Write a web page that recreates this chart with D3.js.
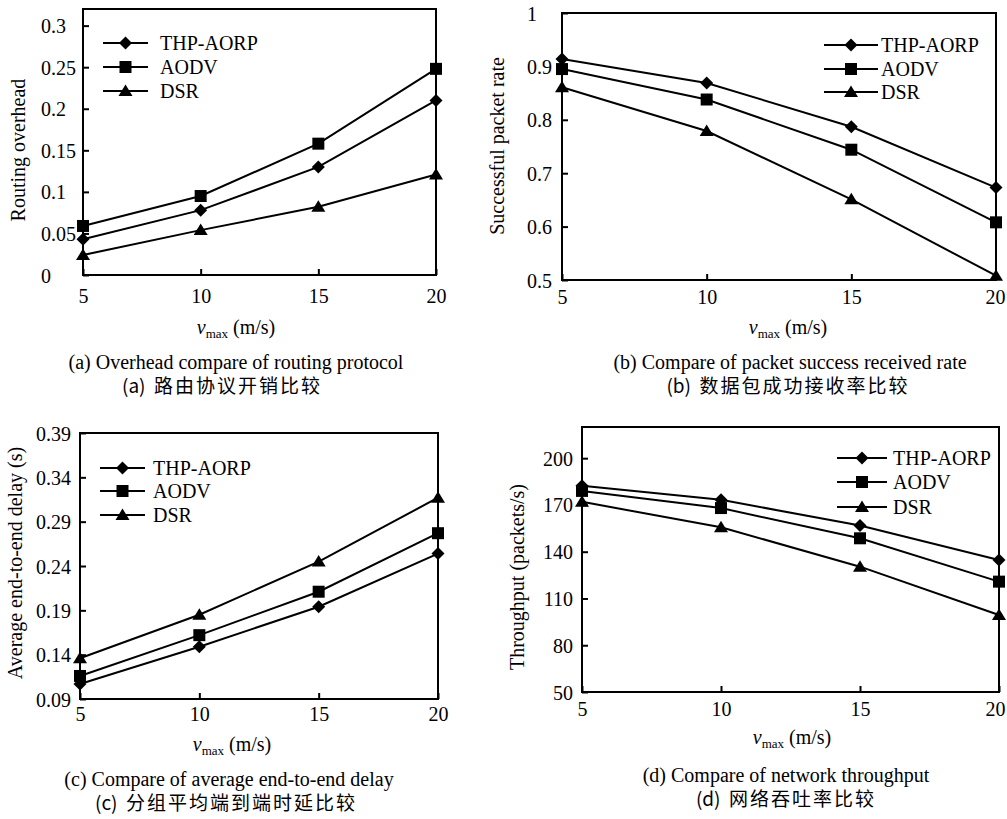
<!DOCTYPE html>
<html>
<head>
<meta charset="utf-8">
<script src="https://cdn.jsdelivr.net/npm/d3@7"></script>
<style>
  body { margin: 0; background: #fff; }
  svg { display: block; }
  text { font-family: "Liberation Serif", "Times New Roman", serif; fill: #000; }
  .cn { font-family: "Noto Sans CJK SC", sans-serif; }
</style>
</head>
<body>
<div id="chart"></div>
<script>
// x axis: max speed
var speeds = [5, 10, 15, 20];
var protocols = ["THP-AORP", "AODV", "DSR"];

// (a) routing overhead
var overheadTHP  = [0.043, 0.078, 0.130, 0.210];
var overheadAODV = [0.059, 0.095, 0.158, 0.248];
var overheadDSR  = [0.024, 0.054, 0.082, 0.121];
var overheadTicks = [0, 0.05, 0.1, 0.15, 0.2, 0.25, 0.3];

// (b) packet delivery rate
var deliveryTHP  = [0.914, 0.869, 0.787, 0.673];
var deliveryAODV = [0.895, 0.838, 0.744, 0.608];
var deliveryDSR  = [0.861, 0.779, 0.651, 0.508];
var deliveryTicks = [0.5, 0.6, 0.7, 0.8, 0.9, 1];

// (c) end-to-end delay
var delayTHP  = [0.107, 0.149, 0.194, 0.254];
var delayAODV = [0.116, 0.162, 0.211, 0.277];
var delayDSR  = [0.136, 0.185, 0.245, 0.317];
var delayTicks = [0.09, 0.14, 0.19, 0.24, 0.29, 0.34, 0.39];

// (d) throughput
var throughputTHP  = [182.3, 173.3, 156.8, 134.7];
var throughputAODV = [179.0, 168.0, 148.6, 120.8];
var throughputDSR  = [172.0, 155.7, 130.4, 99.4];
var throughputTicks = [50, 80, 110, 140, 170, 200];

var w = 1007, h = 819;
var svg = d3.select("#chart").append("svg").attr("width", w).attr("height", h);

// marker shapes (THP diamond, AODV square, DSR triangle)
var shapes = [
    "M0,-6.5L6.5,0L0,6.5L-6.5,0Z",
    "M-6,-6L6,-6L6,6L-6,6Z",
    "M0,-6.5L7,5L-7,5Z"
];

var panels = [
    {series: [overheadTHP, overheadAODV, overheadDSR], ticks: overheadTicks, domain: [0, 0.32],
     left: 83, right: 436, top: 9, bottom: 275, yAlign: "start", yLabX: 41,
     title: "Routing overhead", titleX: 18, titleY: 150,
     leg: {x0: 103, x1: 148, tx: 160, ys: [43, 67, 91]},
     xLabY: 303, vX: 236, vY: 334,
     cap: "(a) Overhead compare of routing protocol", capX: 236, capY: 369,
     tag: "(a)", cn: "路由协议开销比较", cnX: 222, cnY: 393},
    {series: [deliveryTHP, deliveryAODV, deliveryDSR], ticks: deliveryTicks, domain: [0.5, 1],
     left: 562, right: 996, top: 13, bottom: 280, yAlign: "start", yLabX: 527,
     title: "Successful packet rate", titleX: 497, titleY: 146,
     leg: {x0: 824, x1: 878, tx: 881, ys: [45, 69, 92]},
     xLabY: 304, vX: 788, vY: 334,
     cap: "(b) Compare of packet success received rate", capX: 790, capY: 369,
     tag: "(b)", cn: "数据包成功接收率比较", cnX: 788, cnY: 393},
    {series: [delayTHP, delayAODV, delayDSR], ticks: delayTicks, domain: [0.09, 0.39],
     left: 80, right: 438, top: 433, bottom: 699, yAlign: "start", yLabX: 36,
     title: "Average end-to-end delay (s)", titleX: 15, titleY: 563,
     leg: {x0: 100, x1: 145, tx: 153, ys: [468, 491, 515]},
     xLabY: 721, vX: 232, vY: 751,
     cap: "(c) Compare of average end-to-end delay", capX: 229, capY: 786,
     tag: "(c)", cn: "分组平均端到端时延比较", cnX: 226, cnY: 810},
    {series: [throughputTHP, throughputAODV, throughputDSR], ticks: throughputTicks, domain: [50, 220],
     left: 582, right: 999, top: 427, bottom: 692, yAlign: "end", yLabX: 573,
     title: "Throughput (packets/s)", titleX: 517, titleY: 577,
     leg: {x0: 837, x1: 887, tx: 893, ys: [458, 482, 507]},
     xLabY: 716, vX: 792, vY: 744,
     cap: "(d) Compare of network throughput", capX: 786, capY: 782,
     tag: "(d)", cn: "网络吞吐率比较", cnX: 786, cnY: 806}
];

panels.forEach(drawPanel);

function drawPanel(p) {
    var g = svg.append("g");
    var x = d3.scaleLinear().domain([5, 20]).range([p.left, p.right]);
    var y = d3.scaleLinear().domain(p.domain).range([p.bottom, p.top]);

    // y axis, ticks pointing inward
    var yAxis = g.append("g")
        .attr("transform", "translate(" + p.left + ",0)")
        .call(d3.axisLeft(y).tickValues(p.ticks).tickSizeInner(-6).tickSizeOuter(0).tickFormat(d => String(d)));
    yAxis.select(".domain").remove();
    yAxis.selectAll("line").attr("stroke", "#000").attr("stroke-width", 2);
    yAxis.selectAll("text")
        .attr("x", p.yLabX - p.left)
        .attr("dy", "0.35em")
        .attr("text-anchor", p.yAlign)
        .attr("font-size", 20)
        .attr("font-family", "Liberation Serif");

    // x axis
    var xAxis = g.append("g")
        .attr("transform", "translate(0," + p.bottom + ")")
        .call(d3.axisBottom(x).tickValues(speeds).tickSizeInner(-6).tickSizeOuter(0));
    xAxis.select(".domain").remove();
    xAxis.selectAll("line").attr("stroke", "#000").attr("stroke-width", 2);
    xAxis.selectAll("text")
        .attr("y", p.xLabY - p.bottom)
        .attr("dy", 0)
        .attr("font-size", 20)
        .attr("font-family", "Liberation Serif");
    // keep the last label inside the page
    xAxis.selectAll("text").filter(d => d === 20 && x(d) > w - 12)
        .attr("text-anchor", "end").attr("x", w - 2 - x(20));

    // frame
    g.append("rect")
        .attr("x", p.left).attr("y", p.top)
        .attr("width", p.right - p.left).attr("height", p.bottom - p.top)
        .attr("fill", "none").attr("stroke", "#000").attr("stroke-width", 2);

    var line = d3.line().x((d, i) => x(speeds[i])).y(d => y(d));

    p.series.forEach(function(vals, s) {
        g.append("path")
            .attr("d", line(vals))
            .attr("fill", "none").attr("stroke", "#000").attr("stroke-width", 2);
        g.selectAll(".m" + s)
            .data(vals)
            .enter().append("path")
            .attr("class", "m" + s)
            .attr("d", shapes[s])
            .attr("transform", (d, i) => "translate(" + x(speeds[i]) + "," + y(d) + ")")
            .attr("fill", "#000");

        // legend
        var ly = p.leg.ys[s];
        g.append("line")
            .attr("x1", p.leg.x0).attr("x2", p.leg.x1)
            .attr("y1", ly).attr("y2", ly)
            .attr("stroke", "#000").attr("stroke-width", 2);
        g.append("path")
            .attr("d", shapes[s])
            .attr("transform", "translate(" + (p.leg.x0 + p.leg.x1) / 2 + "," + ly + ")")
            .attr("fill", "#000");
        g.append("text")
            .attr("x", p.leg.tx).attr("y", ly).attr("dy", "0.35em")
            .attr("font-size", 20)
            .text(protocols[s]);
    });

    // y title
    g.append("text")
        .attr("transform", "translate(" + p.titleX + "," + p.titleY + ") rotate(-90)")
        .attr("text-anchor", "middle").attr("dy", "0.35em")
        .attr("font-size", 20)
        .text(p.title);

    // x title: v_max (m/s)
    var xt = g.append("text")
        .attr("x", p.vX).attr("y", p.vY)
        .attr("text-anchor", "middle")
        .attr("font-size", 20);
    xt.append("tspan").attr("font-style", "italic").text("v");
    xt.append("tspan").attr("font-size", 13).attr("dy", 4).text("max");
    xt.append("tspan").attr("dy", -4).text("\u00a0(m/s)");

    // captions
    g.append("text")
        .attr("x", p.capX).attr("y", p.capY)
        .attr("text-anchor", "middle")
        .attr("font-size", 20)
        .text(p.cap);
    var ct = g.append("text")
        .attr("class", "cn")
        .attr("x", p.cnX).attr("y", p.cnY)
        .attr("text-anchor", "middle")
        .attr("font-size", 19);
    ct.append("tspan").text(p.tag + "\u00a0\u00a0");
    ct.append("tspan").attr("letter-spacing", 2).text(p.cn);
}
</script>
</body>
</html>
